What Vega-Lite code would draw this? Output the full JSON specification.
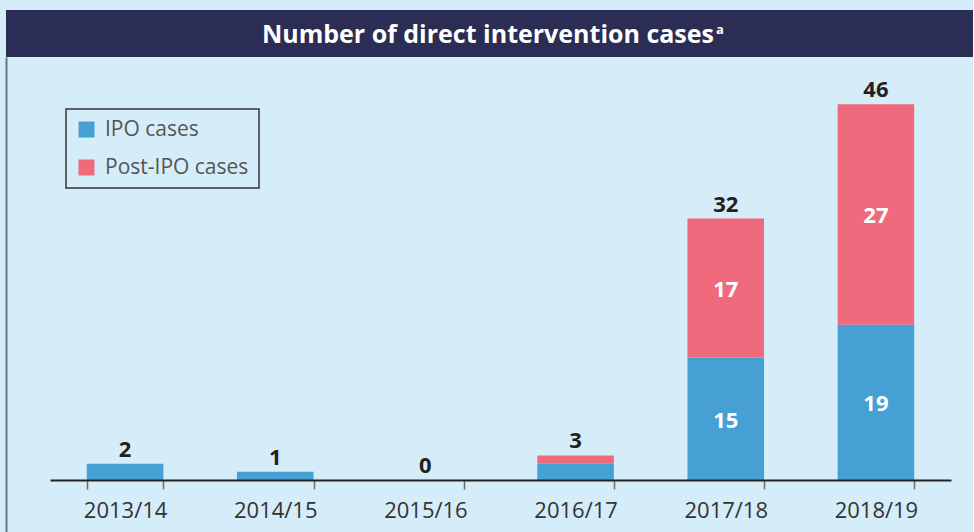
{
  "$schema": "https://vega.github.io/schema/vega-lite/v6.json",
  "background": "#d5ecf9",
  "padding": {"left": 6, "top": 10, "right": 0, "bottom": 0},
  "spacing": 0,
  "config": {
    "view": {"stroke": null},
    "font": "Open Sans",
    "legend": {"strokeColor": "#333333", "strokeWidth": 1.5, "padding": 10},
    "axisY": {"title": null, "labels": false, "ticks": false, "grid": false, "domain": true, "domainColor": "#6f757a", "domainWidth": 2}
  },
  "vconcat": [
    {
      "width": 967,
      "height": 47,
      "view": {"fill": "#2c2d54", "stroke": null},
      "data": {"values": [{"title": "Number of direct intervention cases", "sup": "a"}]},
      "layer": [
        {
          "mark": {"type": "text", "align": "right", "baseline": "alphabetic", "dx": 224.5, "dy": 9, "fontSize": 25, "fontWeight": "bold", "color": "#ffffff", "font": "Open Sans"},
          "encoding": {"text": {"field": "title", "type": "nominal"}}
        },
        {
          "mark": {"type": "text", "align": "left", "baseline": "alphabetic", "dx": 226.5, "dy": 0, "fontSize": 13, "fontWeight": "bold", "color": "#ffffff", "font": "Open Sans"},
          "encoding": {"text": {"field": "sup", "type": "nominal"}}
        }
      ]
    },
    {
      "width": 967,
      "height": 475,
      "data": {
        "values": [
          {"year": "2013/14", "type": "IPO cases", "value": 2},
          {"year": "2013/14", "type": "Post-IPO cases", "value": 0},
          {"year": "2014/15", "type": "IPO cases", "value": 1},
          {"year": "2014/15", "type": "Post-IPO cases", "value": 0},
          {"year": "2015/16", "type": "IPO cases", "value": 0},
          {"year": "2015/16", "type": "Post-IPO cases", "value": 0},
          {"year": "2016/17", "type": "IPO cases", "value": 2},
          {"year": "2016/17", "type": "Post-IPO cases", "value": 1},
          {"year": "2017/18", "type": "IPO cases", "value": 15},
          {"year": "2017/18", "type": "Post-IPO cases", "value": 17},
          {"year": "2018/19", "type": "IPO cases", "value": 19},
          {"year": "2018/19", "type": "Post-IPO cases", "value": 27}
        ]
      },
      "encoding": {
        "x": {
          "field": "year",
          "type": "nominal",
          "scale": {"range": [44, 945], "paddingInner": 0.49, "paddingOuter": 0.245},
          "axis": {
            "title": null,
            "orient": "bottom",
            "offset": -52,
            "labelAngle": 0,
            "domainColor": "#222222",
            "domainWidth": 2,
            "tickColor": "#6e6e6e",
            "tickWidth": 1.5,
            "tickSize": 9,
            "tickBand": "extent",
            "labelFont": "Open Sans",
            "labelFontSize": 22,
            "labelColor": "#333333",
            "labelPadding": 11,
            "grid": false,
            "zindex": 1
          }
        }
      },
      "layer": [
        {
          "mark": {"type": "bar"},
          "encoding": {
            "y": {
              "field": "value",
              "type": "quantitative",
              "stack": "zero",
              "title": null,
              "scale": {"domain": [-6.365, 51.77], "nice": false, "zero": false},
              "axis": {"title": null, "labels": false, "ticks": false, "grid": false, "domain": true, "domainColor": "#6f757a", "domainWidth": 2}
            },
            "color": {
              "field": "type",
              "type": "nominal",
              "scale": {"domain": ["IPO cases", "Post-IPO cases"], "range": ["#46a0d4", "#ee6a7c"]},
              "legend": {
                "title": null,
                "orient": "none",
                "legendX": 60,
                "legendY": 99,
                "direction": "vertical",
                "symbolType": "square",
                "symbolSize": 256,
                "symbolStrokeWidth": 0,
                "labelFont": "Open Sans",
                "labelFontSize": 21,
                "labelColor": "#555555",
                "labelOffset": 8,
                "rowPadding": 16
              }
            },
            "order": {"field": "type", "sort": "ascending"}
          }
        },
        {
          "mark": {"type": "text", "baseline": "alphabetic", "dy": -7, "fontSize": 22, "fontWeight": "bold", "color": "#231f20", "font": "Open Sans"},
          "encoding": {
            "y": {"aggregate": "sum", "field": "value", "type": "quantitative", "title": null, "scale": {"domain": [-6.365, 51.77], "nice": false, "zero": false}},
            "text": {"aggregate": "sum", "field": "value", "type": "quantitative"}
          }
        },
        {
          "transform": [{"filter": "datum.value >= 5"}],
          "mark": {"type": "text", "baseline": "middle", "dy": 2, "fontSize": 22, "fontWeight": "bold", "color": "#ffffff", "font": "Open Sans"},
          "encoding": {
            "y": {"field": "value", "type": "quantitative", "stack": "zero", "bandPosition": 0.5, "title": null, "scale": {"domain": [-6.365, 51.77], "nice": false, "zero": false}},
            "detail": {"field": "type"},
            "order": {"field": "type", "sort": "ascending"},
            "text": {"field": "value", "type": "quantitative"}
          }
        }
      ]
    }
  ]
}
